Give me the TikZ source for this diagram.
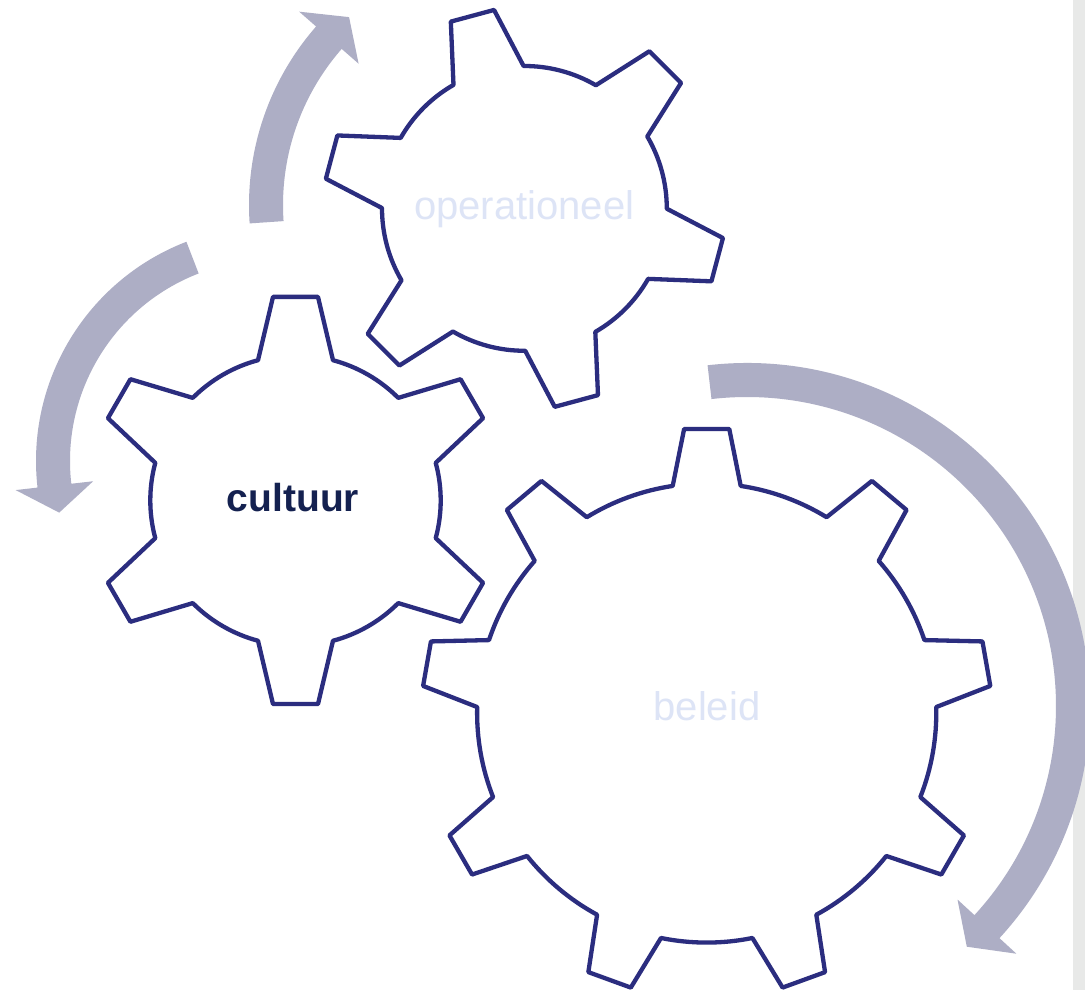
\documentclass[tikz,border=0pt]{standalone}
\usepackage{fontspec}
\setmainfont{Liberation Sans}
\definecolor{gearblue}{HTML}{2B2D7F}
\definecolor{arrowgray}{HTML}{ADAEC5}
\definecolor{striptone}{HTML}{E8E9E8}
\definecolor{lighttext}{HTML}{DDE4F6}
\definecolor{darktext}{HTML}{142150}
\tikzset{
  gearline/.style={draw=gearblue, fill=white, line width=4.3pt, line join=round},
  arrowfill/.style={fill=arrowgray},
  lighttxt/.style={text=lighttext, font=\fontsize{40}{48}\selectfont, inner sep=0pt},
  darktxt/.style={text=darktext, font=\fontsize{39}{47}\selectfont\bfseries, inner sep=0pt},
}
% gear: cx cy Ro Ri wt wb n a0
\newcommand\drawgear[8]{%
  \pgfmathsetmacro\gRt{10*sqrt((#3/10)*(#3/10)+(#5/10)*(#5/10))}%
  \pgfmathsetmacro\gG{atan((#5)/(#3))}%
  \pgfmathsetmacro\gB{asin((#6)/(#4))}%
  \pgfmathsetmacro\gS{360/(#7)}%
  \pgfmathtruncatemacro\gN{#7-1}%
  \pgfmathsetmacro\gRi{#4}%
  \begin{scope}[shift={(#1,#2)},rotate=#8]
    \draw[gearline] ({-\gB}:\gRi pt)
      \foreach \k in {0,...,\gN}{
        -- ({\k*\gS-\gG}:\gRt pt) -- ({\k*\gS+\gG}:\gRt pt) -- ({\k*\gS+\gB}:\gRi pt)
        arc[start angle={\k*\gS+\gB}, end angle={(\k+1)*\gS-\gB}, radius=\gRi pt]
      } -- cycle;
  \end{scope}}
% circular arrow: cx cy R hw hh start base tip
\newcommand\circarrow[8]{%
  \pgfmathsetmacro\aRo{#3+#4}%
  \pgfmathsetmacro\aRi{#3-#4}%
  \pgfmathsetmacro\aHo{#3+#5}%
  \pgfmathsetmacro\aHi{#3-#5}%
  \pgfmathsetmacro\aRm{#3}%
  \begin{scope}[shift={(#1,#2)}]
    \fill[arrowfill] (#6:\aRo pt) arc[start angle=#6, end angle=#7, radius=\aRo pt]
      -- (#7:\aHo pt) -- (#8:\aRm pt) -- (#7:\aHi pt) -- (#7:\aRi pt)
      arc[start angle=#7, end angle=#6, radius=\aRi pt] -- cycle;
  \end{scope}}
\begin{document}
\begin{tikzpicture}[x=1pt,y=1pt]
  \useasboundingbox (0,0) rectangle (1085,990);
  \clip (0,0) rectangle (1085,990);
  \fill[white] (0,0) rectangle (1085,990);
  \fill[striptone] (1073,0) rectangle (1085,990);
  % arrows
  \circarrow{520}{785}{254}{17}{39.5}{183.9}{138.8}{132.3}
  \circarrow{271}{529}{218}{17}{39}{111.1}{186.5}{193.7}
  \circarrow{747}{284}{326}{17}{40}{96.6}{-42.6}{-47.6}
  % gears
  \drawgear{295.5}{489.5}{203.6}{145.2}{22.5}{37.5}{6}{90}
  \drawgear{524.4}{781.6}{199.5}{142.4}{22.4}{36.3}{6}{105.1}
  \drawgear{706.7}{277}{284}{229.6}{22.6}{34}{9}{90}
  % labels
  \node[lighttxt, anchor=base] (opn) at (524.2,770) {operationeel};
  \node[darktxt, anchor=base] (cul) at (293,478.3) {cultuur};
  \node[lighttxt, anchor=base] (bel) at (707,269.5) {beleid};
\end{tikzpicture}
\end{document}
